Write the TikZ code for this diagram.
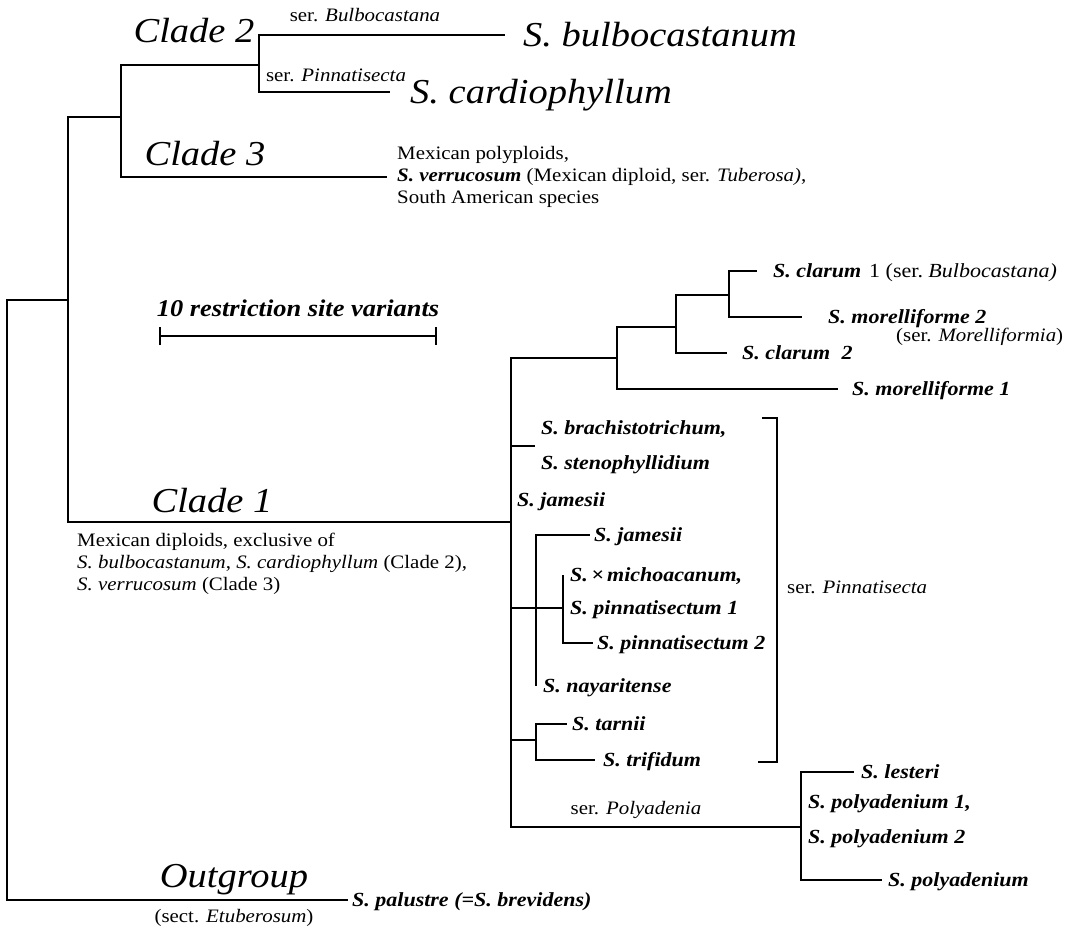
\documentclass[tikz,border=0pt]{standalone}
\usepackage{fontspec}
\setmainfont{Liberation Serif}[FakeStretch=1.1]
\usetikzlibrary{arrows.meta}

\begin{document}
\begin{tikzpicture}[x=1pt,y=-1pt,
  branch/.style={line width=2.2pt},
  leaf/.style={anchor=west,inner xsep=#1,inner ysep=0pt,text height=17pt,
    text depth=4pt,font=\fontsize{20}{22}\selectfont\bfseries\itshape},
  leaf/.default=4pt,
  bigleaf/.style={anchor=west,inner xsep=#1,inner ysep=0pt,text height=30pt,
    text depth=8pt,font=\fontsize{35}{40}\selectfont\itshape},
  clade/.style={anchor=base,inner sep=0pt,font=\fontsize{35}{40}\selectfont\itshape},
  note/.style={inner sep=0pt,align=left,font=\fontsize{19}{22}\selectfont}
]
  \useasboundingbox (0,0) rectangle (1075,932);

  % inner nodes of the tree
  \coordinate (root) at (7,600);
  \coordinate (nA) at (68,300);
  \coordinate (nB) at (121,117);
  \coordinate (nK2) at (259,65);
  \coordinate (nC) at (511,522);
  \coordinate (nD) at (617,358);
  \coordinate (nE) at (676,327);
  \coordinate (nF) at (729,295);
  \coordinate (bs) at (535,446);
  \coordinate (nG) at (536,608);
  \coordinate (nH) at (563,608);
  \coordinate (nT) at (536,740);
  \coordinate (nP) at (801,827);

  % clades 2 and 3
  \node[bigleaf=18pt] (bulbo) at (505,35) {S. bulbocastanum};
  \node[bigleaf=20pt] (cardio) at (390,92) {S. cardiophyllum};
  \node[note] (serbulb) at (365,15) {ser. \textit{Bulbocastana}};
  \node[note] (serpinn) at (336,75) {ser. \textit{Pinnatisecta}};
  \node[clade] (clade2) at (194,42) {Clade 2};
  \node[clade] (clade3) at (205,165) {Clade 3};
  \node[note,anchor=west,inner xsep=10pt] (mexpoly) at (387,177)
    {Mexican polyploids,\\
     \textbf{\textit{S. verrucosum}} (Mexican diploid, ser. \textit{Tuberosa)},\\
     South American species};

  % scale bar
  \node[font=\fontsize{24}{27}\selectfont\bfseries\itshape] (sclabel) at (298,308)
    {10 restriction site variants};
  \coordinate (sb1) at (159,336);
  \coordinate (sb2) at (437,336);
  \draw[branch,{Bar[width=18pt]}-{Bar[width=18pt]}] (sb1) -- (sb2);

  % clade 1
  \node[clade] (clade1) at (212,512) {Clade 1};
  \node[note,anchor=north west] (mexdip) at (77,533)
    {Mexican diploids, exclusive of\\
     \textit{S. bulbocastanum}, \textit{S. cardiophyllum} (Clade 2),\\
     \textit{S. verrucosum} (Clade 3)};

  \node[leaf=16pt] (clarum1) at (757,271)
    {S. clarum\hspace{8pt}{\mdseries\upshape 1 (ser.~\itshape Bulbocastana)}};
  \node[leaf=26pt] (morell2) at (802,317) {S. morelliforme 2};
  \node[note,anchor=west] (sermorel) at (896,337) {(ser. \textit{Morelliformia})};
  \node[leaf=15pt] (clarum2) at (727,353) {S. clarum\hspace{6pt} 2};
  \node[leaf=14pt] (morell1) at (838,389) {S. morelliforme 1};

  \node[leaf=6pt] (brach) at (535,428) {S. brachistotrichum,};
  \node[leaf=6pt] (steno) at (535,463) {S. stenophyllidium};
  \node[leaf=6pt] (jam1) at (511,500) {S. jamesii};
  \node[leaf] (jam2) at (590,535) {S. jamesii};
  \node[leaf=7pt] (micho) at (563,575) {S.\,×\,michoacanum,};
  \node[leaf=7pt] (pinn1) at (563,608) {S. pinnatisectum 1};
  \node[leaf] (pinn2) at (593,643) {S. pinnatisectum 2};
  \node[leaf=7pt] (naya) at (536,686) {S. nayaritense};
  \node[leaf=5pt] (tarnii) at (567,724) {S. tarnii};
  \node[leaf=8pt] (trifid) at (595,760) {S. trifidum};

  \coordinate (brkT) at (762,418);
  \coordinate (brkB) at (758,762);
  \draw[branch] (brkT) -- ++(15,0) |- (brkB);
  \node[note,anchor=west] (serpinn2) at (787,587) {ser. \textit{Pinnatisecta}};

  \node[note] (serpoly) at (636,810) {ser. \textit{Polyadenia}};
  \node[leaf=7pt] (lesteri) at (854,772) {S. lesteri};
  \node[leaf=7pt] (polyad1) at (801,802) {S. polyadenium 1,};
  \node[leaf=7pt] (polyad2) at (801,837) {S. polyadenium 2};
  \node[leaf=6pt] (polyad) at (882,880) {S. polyadenium};

  % outgroup
  \node[leaf] (palustre) at (348,900) {S. palustre (=S. brevidens)};
  \node[clade] (outgroup) at (234,887) {Outgroup};
  \node[note] (etub) at (234,918) {(sect. \textit{Etuberosum})};

  % branches
  \draw[branch] (root) |- (nA) (root) |- (palustre.west);
  \draw[branch] (nA) |- (nB) (nA) |- (nC);
  \draw[branch] (nB) |- (nK2) (nB) |- (mexpoly.west);
  \draw[branch] (nK2) |- (bulbo.west) (nK2) |- (cardio.west);
  \draw[branch] (nC) |- (nD) (nC) |- (bs) (nC) |- (nG) (nC) |- (nT) (nC) |- (nP);
  \draw[branch] (nD) |- (nE) (nD) |- (morell1.west);
  \draw[branch] (nE) |- (nF) (nE) |- (clarum2.west);
  \draw[branch] (nF) |- (clarum1.west) (nF) |- (morell2.west);
  \draw[branch] (nG) -- (nH) (nG) |- (jam2.west) (nG) -- (nG |- naya.west);
  \draw[branch] (nH) -- (nH |- micho.west) (nH) |- (pinn2.west);
  \draw[branch] (nT) |- (tarnii.west) (nT) |- (trifid.west);
  \draw[branch] (nP) |- (lesteri.west) (nP) |- (polyad.west);
\end{tikzpicture}
\end{document}
